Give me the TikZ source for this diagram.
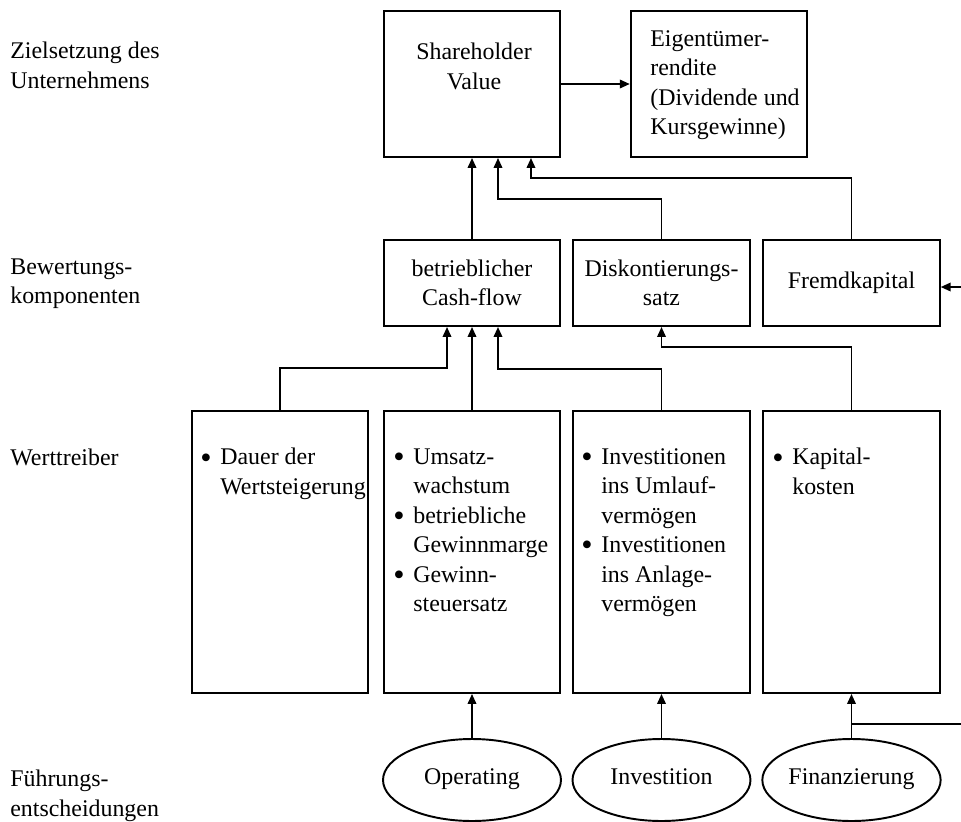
\documentclass[tikz,border=0pt]{standalone}
\usepackage{fontspec}
\setmainfont{Liberation Serif}
\usetikzlibrary{shapes.geometric,arrows.meta}

\newcommand{\punkt}{\makebox[0.4cm][l]{\raisebox{-0.13em}{\scalebox{1.35}{\textbullet}}}}
\newcommand{\einz}{\hspace*{0.4cm}}

\tikzset{
  txt/.style={inner sep=0pt, font=\fontsize{13.6}{16.8}\selectfont},
  box/.style={draw, rectangle, line width=1.1pt, minimum width=3.53cm, inner sep=0pt, align=center, font=\fontsize{13.6}{16.8}\selectfont},
  ovale/.style={draw, ellipse, line width=1.1pt, minimum width=3.56cm, minimum height=1.64cm, inner sep=0pt, text height=0.7em, text depth=0.22em, font=\fontsize{13.6}{16.8}\selectfont},
  arr/.style={line width=1.1pt, -{Triangle[length=0.2cm,width=0.17cm]}},
  lin/.style={line width=1.1pt}
}

\begin{document}
\begin{tikzpicture}[x=0.02cm, y=-0.02cm]
            \useasboundingbox (0,0) rectangle (961,822);

            % Ebenen
            \node[txt, anchor=north west, align=left] (ziel) at (10,42) {Zielsetzung des\\Unternehmens};
            \node[txt, anchor=north west, align=left] (bewert) at (10,258) {Bewertungs-\\komponenten};
            \node[txt, anchor=north west, align=left] (treiber) at (10,449) {Werttreiber};
            \node[txt, anchor=north west, align=left] (fuehr) at (10,770) {Führungs-\\entscheidungen};

            % Zielsetzung
            \node[box, minimum height=2.92cm] (sv) at (472,84) {};
            \node[txt, anchor=north, align=center] (svt) at (474,43) {Shareholder\\Value};
            \node[box, minimum height=2.92cm] (eig) at (719,84) {};
            \node[txt, anchor=north west, align=left] (eigt) at (650,30) {Eigentümer-\\rendite\\(Dividende und\\Kursgewinne)};

            % Bewertungskomponenten
            \node[box, minimum height=1.72cm] (cf) at (472,283) {betrieblicher\\Cash-flow};
            \node[box, minimum height=1.72cm] (disk) at (661.5,283) {Diskontierungs-\\satz};
            \node[box, minimum height=1.72cm] (fk) at (851.5,283) {Fremdkapital};

            % Werttreiber
            \node[box, minimum height=5.64cm] (wt1) at (280,552) {};
            \node[box, minimum height=5.64cm] (wt2) at (472,552) {};
            \node[box, minimum height=5.64cm] (wt3) at (661.5,552) {};
            \node[box, minimum height=5.64cm] (wt4) at (851.5,552) {};
            \node[txt, anchor=north west, align=left] (wt1t) at (200,448) {\punkt Dauer der\\\einz Wertsteigerung};
            \node[txt, anchor=north west, align=left] (wt2t) at (393,448) {\punkt Umsatz-\\\einz wachstum\\\punkt betriebliche\\\einz Gewinnmarge\\\punkt Gewinn-\\\einz steuersatz};
            \node[txt, anchor=north west, align=left] (wt3t) at (581,448) {\punkt Investitionen\\\einz ins Umlauf-\\\einz vermögen\\\punkt Investitionen\\\einz ins Anlage-\\\einz vermögen};
            \node[txt, anchor=north west, align=left] (wt4t) at (772,448) {\punkt Kapital-\\\einz kosten};

            % Fuehrungsentscheidungen
            \node[ovale] (op) at (472,780) {Operating};
            \node[ovale] (inv) at (661.5,780) {Investition};
            \node[ovale] (fin) at (851.5,780) {Finanzierung};

            % rechter Rand
            \coordinate (rechts) at (961,724);
            \coordinate (fkin) at (961,287);

            % Verbindungen
            \draw[arr] (sv.east) -- (eig.west);
            \draw[arr] (cf.north) -- (sv.south);
            \draw[arr] (disk.north) -- ++(0,-40) -| ([xshift=0.52cm]sv.south);
            \draw[arr] (fk.north) -- ++(0,-61) -| ([xshift=1.18cm]sv.south);
            \draw[arr] (wt1.north) -- ++(0,-42) -| ([xshift=-0.5cm]cf.south);
            \draw[arr] (wt2.north) -- (cf.south);
            \draw[arr] (wt3.north) -- ++(0,-41) -| ([xshift=0.52cm]cf.south);
            \draw[arr] (wt4.north) -- ++(0,-63) -| (disk.south);
            \draw[arr] (op.north) -- (wt2.south);
            \draw[arr] (inv.north) -- (wt3.south);
            \draw[arr] (fin.north) -- (wt4.south);
            \draw[lin] (fin.north |- rechts) -- (rechts);
            \draw[arr] (fkin) -- (fk.east |- fkin);

\end{tikzpicture}
\end{document}
